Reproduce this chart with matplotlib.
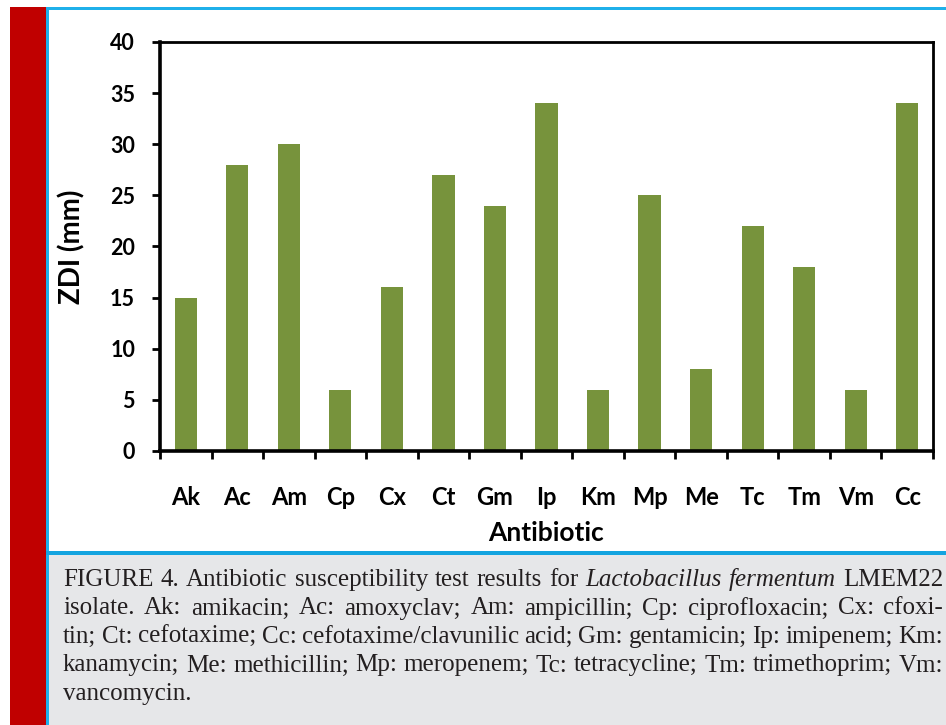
import numpy as np
import matplotlib
matplotlib.use("Agg")
import matplotlib.pyplot as plt
from matplotlib.patches import Rectangle

# data
antibiotics = ["Ak", "Ac", "Am", "Cp", "Cx", "Ct", "Gm", "Ip", "Km", "Mp", "Me", "Tc", "Tm", "Vm", "Cc"]
zdi_mm = [15, 28, 30, 6, 16, 27, 24, 34, 6, 25, 8, 22, 18, 6, 34]
y_ticks = [0, 5, 10, 15, 20, 25, 30, 35, 40]

caption_lines = [
    [("FIGURE 4. Antibiotic susceptibility test results for", "normal"),
     ("Lactobacillus fermentum", "italic"), ("LMEM22", "normal")],
    [("isolate. Ak: amikacin; Ac: amoxyclav; Am: ampicillin; Cp: ciprofloxacin; Cx: cfoxi-", "normal")],
    [("tin; Ct: cefotaxime; Cc: cefotaxime/clavunilic acid; Gm: gentamicin; Ip: imipenem; Km:", "normal")],
    [("kanamycin; Me: methicillin; Mp: meropenem; Tc: tetracycline; Tm: trimethoprim; Vm:", "normal")],
    [("vancomycin.", "normal")],
]

W, H = 946, 725
fig = plt.figure(figsize=(W / 100, H / 100), dpi=100)
fig.patch.set_facecolor("white")

def px_rect(x0, y0, x1, y1, color):
    # rectangle in pixel coords (origin top-left)
    fig.patches.append(Rectangle((x0 / W, 1 - y1 / H), (x1 - x0) / W, (y1 - y0) / H,
                                 transform=fig.transFigure, facecolor=color,
                                 edgecolor="none", zorder=0))

# frame decoration
px_rect(10, 7, 46, H, "#c00000")
px_rect(46, 7, 49, H, "#1fb0ea")
px_rect(46, 7, W, 10, "#1fb0ea")
px_rect(49, 555, W, H, "#e6e7e9")
px_rect(46, 551, W, 555, "#14a4e0")

chart_font = "Lato"
ax = fig.add_axes([160 / W, 1 - 451 / H, 773 / W, 409 / H])
x = np.arange(len(antibiotics))
ax.bar(x, zdi_mm, width=0.43, color="#77933c", zorder=2)
ax.set_xlim(-0.5, len(antibiotics) - 0.5)
ax.set_ylim(0, 40)
ax.set_yticks(y_ticks)
ax.set_xticks(x)
ax.set_xticklabels(antibiotics, fontfamily=chart_font, fontweight="bold", fontsize=17)
ax.set_xticks(np.arange(len(antibiotics) + 1) - 0.5, minor=True)
for lab in ax.get_yticklabels():
    lab.set_fontfamily(chart_font)
    lab.set_fontweight("bold")
    lab.set_fontsize(15.5)
ax.tick_params(axis="x", which="major", length=0, pad=25)
ax.tick_params(axis="x", which="minor", length=6, width=2, direction="out")
ax.tick_params(axis="y", which="major", length=6, width=2, direction="out", pad=12)
for side in ["left", "bottom"]:
    ax.spines[side].set_linewidth(2.6)
for side in ["top", "right"]:
    ax.spines[side].set_linewidth(2)
ax.set_ylabel("ZDI (mm)", fontfamily=chart_font, fontweight="bold", fontsize=20)
ax.yaxis.set_label_coords((72 - 160) / 773, 0.5)
ax.yaxis.label.set_va("center")
ax.set_xlabel("Antibiotic", fontfamily=chart_font, fontweight="bold", fontsize=19)
ax.xaxis.set_label_coords(0.5, -(533 - 451) / 409)
ax.xaxis.label.set_va("center")

# justified caption, placed word by word
renderer = fig.canvas.get_renderer()
cap_font = "Liberation Serif"
cap_size = 18
left_px, right_px = 63, 943
baselines = [586, 614.5, 643, 671.5, 700]

sp = fig.text(0, 0, "a a", fontfamily=cap_font, fontsize=cap_size)
sp2 = fig.text(0, 0, "aa", fontfamily=cap_font, fontsize=cap_size)
space_w = sp.get_window_extent(renderer).width - sp2.get_window_extent(renderer).width
sp.remove()
sp2.remove()

for i, segs in enumerate(caption_lines):
    words = []
    for txt, style in segs:
        for w in txt.split(" "):
            words.append((w, style))
    items = []
    for w, style in words:
        t = fig.text(0, 1 - baselines[i] / H, w, fontfamily=cap_font,
                     fontsize=cap_size, style=style, color="#231f20",
                     va="baseline", ha="left")
        items.append((t, t.get_window_extent(renderer).width))
    total = sum(wd for _, wd in items)
    if i < len(caption_lines) - 1 and len(items) > 1:
        gap = (right_px - left_px - total) / (len(items) - 1)
    else:
        gap = space_w
    xp = left_px
    for t, wd in items:
        t.set_x(xp / W)
        xp += wd + gap

fig.savefig("out.png", dpi=100)
